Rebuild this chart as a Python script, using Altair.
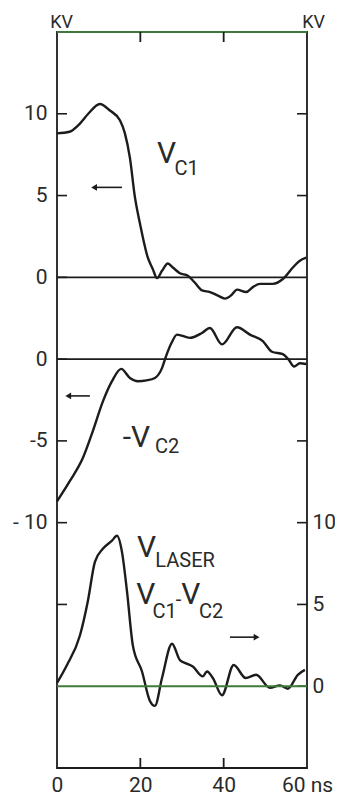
import altair as alt
import pandas as pd

FONT = "Roboto, Liberation Sans, DejaVu Sans, sans-serif"
INK = "#1c1c1c"
TXT = "#2a2a2a"
GREEN = "#3f7a3a"

# ---- data (time in ns, voltage in kV) ----
c1_t = [0, 3.0, 5.5, 7.5, 10.3, 12.7, 15.1, 16.3, 17.5, 18.7, 19.9, 21.8, 23.0, 24.0,
        25.2, 26.6, 27.8, 29.5, 31.4, 33.0, 34.8, 36.7, 38.5, 40.3, 41.8, 43.2, 45.4,
        47.0, 48.7, 51.8, 54.2, 56.6, 58.2, 59.8]
c1_v = [8.8, 8.9, 9.4, 10.0, 10.6, 10.2, 9.6, 8.8, 7.3, 4.9, 3.3, 1.2, 0.5, -0.05,
        0.4, 0.85, 0.6, 0.25, 0.1, -0.3, -0.8, -0.9, -1.1, -1.3, -1.1, -0.75, -0.9,
        -0.6, -0.4, -0.4, -0.1, 0.6, 1.0, 1.2]

c2_t = [0, 3.1, 6.2, 8.6, 11.0, 13.2, 15.4, 17.5, 19.4, 21.5, 23.5, 25.2, 26.2, 27.5,
        28.8, 31.9, 34.8, 36.7, 39.6, 43.2, 46.3, 49.4, 51.6, 54.2, 55.5, 56.9, 58.3, 59.8]
c2_v = [-8.7, -7.45, -6.05, -4.4, -2.6, -1.35, -0.6, -1.15, -1.35, -1.3, -1.15, -0.55,
        0.2, 1.0, 1.5, 1.3, 1.6, 1.9, 0.9, 1.95, 1.5, 1.1, 0.45, 0.3, 0.0, -0.45, -0.25, -0.3]

las_t = [0, 2.4, 5.5, 7.4, 9.1, 11.0, 13.2, 14.4, 15.6, 16.8, 18.2, 20.4, 22.3, 23.5,
         25.2, 27.6, 29.5, 31.0, 32.6, 35.0, 36.0, 37.4, 39.6, 42.4, 45.3, 47.8, 51.1,
         53.5, 55.4, 57.8, 59.5]
las_v = [0.2, 1.3, 3.1, 5.2, 7.6, 8.4, 8.9, 9.2, 8.2, 5.8, 2.5, 0.9, -0.9, -1.2,
         0.5, 2.6, 1.6, 1.4, 1.2, 0.6, 0.9, 0.5, -0.55, 1.3, 0.5, 0.7, -0.1,
         0.05, -0.15, 0.7, 1.0]

# vertical offsets of the three stacked traces on the common plot scale
offsets = {"c1": 0, "c2": -5, "laser": -25}

x_ticks = [0, 20, 40, 60]
left_ticks = [10, 5, 0, -5, -10, -15, -20]
right_ticks = [10, 5, -10, -15, -20, -25]
zero_lines = [0, -5]

rows = []
for name, ts, vs in (("c1", c1_t, c1_v), ("c2", c2_t, c2_v), ("laser", las_t, las_v)):
    for t, v in zip(ts, vs):
        rows.append({"trace": name, "t": t, "u": v + offsets[name]})
traces = pd.DataFrame(rows)

big_text = pd.DataFrame({
    "t": [24.0, 15.8, 19.2, 19.0, 29.8],
    "u": [7.0, -10.4, -17.1, -20.0, -20.0],
    "label": ["V", "-V", "V", "V", "V"],
})
small_text = pd.DataFrame({
    "t": [28.2, 23.5, 23.6, 22.9, 34.1, 28.5],
    "u": [6.25, -10.75, -17.7, -20.8, -20.8, -20.1],
    "label": ["C1", "C2", "LASER", "C1", "C2", "-"],
})
arrows = pd.DataFrame({
    "t1": [15.6, 7.9, 41.5],
    "t2": [8.9, 2.7, 47.9],
    "u": [5.5, -7.25, -22.0],
})

X = alt.Scale(domain=[0, 60], nice=False, zero=False)
Y = alt.Scale(domain=[-30, 15], nice=False, zero=False)

x_axis = alt.Axis(values=x_ticks, labelExpr="datum.value == 60 ? '60 ns' : datum.value",
                  tickSize=0, domain=False, grid=False, labelPadding=6, labelFontSize=21,
                  labelFont=FONT, labelColor=TXT, title=None, labelFlush=False,
                  labelOverlap=False)

left_axis = alt.Axis(values=[10, 5, 0, -5, -10, -15], orient="left",
                     labelExpr="datum.value == 10 ? '10' : datum.value == 5 ? '5' : "
                               "datum.value == 0 ? '0' : datum.value == -5 ? '0' : "
                               "datum.value == -10 ? '-5' : '- 10'",
                     tickSize=0, domain=False, grid=False, labelPadding=10, labelFontSize=21,
                     labelFont=FONT, labelColor=TXT, labelOverlap=False,
                     title="KV", titleAngle=0, titleX=4, titleY=-5, titleAlign="center",
                     titleBaseline="alphabetic", titleFont=FONT, titleFontSize=18,
                     titleFontWeight="normal", titleColor=TXT)

right_axis = alt.Axis(values=[-15, -20, -25], orient="right",
                      labelExpr="datum.value == -15 ? '10' : datum.value == -20 ? '5' : '0'",
                      tickSize=0, domain=False, grid=False, labelPadding=5, labelFontSize=21,
                      labelFont=FONT, labelColor=TXT, labelOverlap=False,
                      title="KV", titleAngle=0, titleX=6, titleY=-5, titleAlign="center",
                      titleBaseline="alphabetic", titleFont=FONT, titleFontSize=18,
                      titleFontWeight="normal", titleColor=TXT)

lines = alt.Chart(traces).mark_line(color=INK, strokeWidth=2.4, interpolate="monotone").encode(
    x=alt.X("t:Q", scale=X, axis=x_axis),
    y=alt.Y("u:Q", scale=Y, axis=left_axis),
    detail="trace:N",
)

right_layer = alt.Chart(pd.DataFrame({"u": right_ticks})).mark_rule(color=INK, strokeWidth=1.6).encode(
    y=alt.Y("u:Q", scale=Y, axis=right_axis),
    x=alt.value(240), x2=alt.value(250),
)

zero = alt.Chart(pd.DataFrame({"u": zero_lines})).mark_rule(color=INK, strokeWidth=1.6).encode(
    y=alt.Y("u:Q", scale=Y, axis=None), x=alt.value(0), x2=alt.value(250))
zero_green = alt.Chart(pd.DataFrame({"u": [-25, 15]})).mark_rule(color=GREEN, strokeWidth=2).encode(
    y=alt.Y("u:Q", scale=Y, axis=None), x=alt.value(0), x2=alt.value(250))

lticks = alt.Chart(pd.DataFrame({"u": left_ticks})).mark_rule(color=INK, strokeWidth=1.6).encode(
    y=alt.Y("u:Q", scale=Y, axis=None), x=alt.value(0), x2=alt.value(10))

tticks = alt.Chart(pd.DataFrame({"t": [20, 40]})).mark_rule(color=INK, strokeWidth=1.8).encode(
    x=alt.X("t:Q", scale=X), y=alt.value(0), y2=alt.value(10))
bticks = alt.Chart(pd.DataFrame({"t": [20, 40]})).mark_rule(color=INK, strokeWidth=1.8).encode(
    x=alt.X("t:Q", scale=X), y=alt.value(726), y2=alt.value(736))

big = alt.Chart(big_text).mark_text(font=FONT, fontSize=30, color=TXT, align="left",
                                    baseline="alphabetic").encode(
    x=alt.X("t:Q", scale=X), y=alt.Y("u:Q", scale=Y, axis=None), text="label:N")
small = alt.Chart(small_text).mark_text(font=FONT, fontSize=20, color=TXT, align="left",
                                        baseline="alphabetic").encode(
    x=alt.X("t:Q", scale=X), y=alt.Y("u:Q", scale=Y, axis=None), text="label:N")

shafts = alt.Chart(arrows).mark_rule(color=INK, strokeWidth=1.6).encode(
    x=alt.X("t1:Q", scale=X), x2="t2:Q", y=alt.Y("u:Q", scale=Y, axis=None))
heads_l = alt.Chart(arrows.iloc[:2]).mark_point(shape="triangle-left", filled=True, color=INK,
                                                size=45, opacity=1).encode(
    x=alt.X("t2:Q", scale=X), y=alt.Y("u:Q", scale=Y, axis=None))
heads_r = alt.Chart(arrows.iloc[2:]).mark_point(shape="triangle-right", filled=True, color=INK,
                                                size=45, opacity=1).encode(
    x=alt.X("t2:Q", scale=X), y=alt.Y("u:Q", scale=Y, axis=None))

chart = alt.layer(
    lines, right_layer, zero, zero_green, lticks, tticks, bticks, big, small, shafts, heads_l, heads_r
).resolve_scale(y="independent").properties(
    width=250, height=736,
    autosize=alt.AutoSizeParams(type="none"),
    padding={"left": 49, "top": 24, "right": 28, "bottom": 28},
    background="white",
).configure_view(stroke=INK, strokeWidth=1.8)

chart.save("out.html", embed_options={"renderer": "svg", "actions": False})
